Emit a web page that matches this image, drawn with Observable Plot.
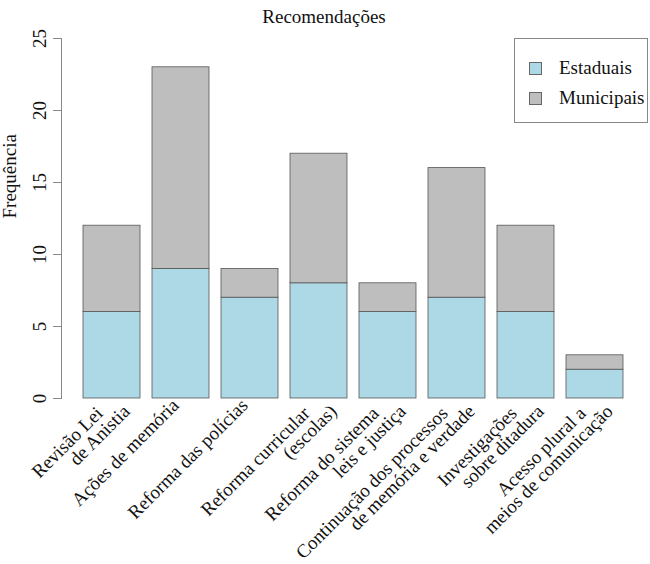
<!DOCTYPE html>
<html>
<head>
<meta charset="utf-8">
<script src="https://cdn.jsdelivr.net/npm/d3@7"></script>
<script src="https://cdn.jsdelivr.net/npm/@observablehq/plot@0.6"></script>
<style>
  body { margin: 0; background: #fff; }
  #wrap { position: relative; width: 650px; height: 564px; font-family: 'Liberation Serif', 'DejaVu Serif', serif; color: #111; }
  #wrap svg { display: block; }
  .legend { position: absolute; left: 514px; top: 38px; width: 134px; height: 85px; border: 1px solid #888; box-sizing: border-box; background: #fff; }
  .legend .item { position: absolute; left: 14px; height: 20px; display: flex; align-items: center; font-size: 19px; }
  .legend .sw { width: 13px; height: 13px; border: 1px solid #666; margin-right: 17px; box-sizing: border-box; }
</style>
</head>
<body>
<div id="wrap"></div>
<script>
const categories = [
  "Revisão Lei\nde Anistia",
  "Ações de memória",
  "Reforma das polícias",
  "Reforma curricular\n(escolas)",
  "Reforma do sistema\nleis e justiça",
  "Continuação dos processos\nde memória e verdade",
  "Investigações\nsobre ditadura",
  "Acesso plural a\nmeios de comunicação"
];
const estaduais = [6, 9, 7, 8, 6, 7, 6, 2];
const municipais = [6, 14, 2, 9, 2, 9, 6, 1];
const groups = ["Estaduais", "Municipais"];
const colors = ["#ADD8E6", "#BEBEBE"];
const yTicks = [0, 5, 10, 15, 20, 25];
const title = "Recomendações";
const yLabel = "Frequência";

const rows = categories.flatMap((c, i) => [
  {cat: c, group: groups[0], value: estaduais[i]},
  {cat: c, group: groups[1], value: municipais[i]}
]);
const labelRows = categories.map(c => ({cat: c, lines: c.split("\n")}));
const single = labelRows.filter(d => d.lines.length === 1).map(d => ({cat: d.cat, text: d.lines[0]}));
const line1 = labelRows.filter(d => d.lines.length > 1).map(d => ({cat: d.cat, text: d.lines[0]}));
const line2 = labelRows.filter(d => d.lines.length > 1).map(d => ({cat: d.cat, text: d.lines[1]}));

const fontFamily = "'Liberation Serif', 'DejaVu Serif', serif";

const chart = Plot.plot({
  width: 650,
  height: 564,
  marginLeft: 82,
  marginRight: 25,
  marginTop: 38,
  marginBottom: 166,
  style: {fontFamily, fontSize: "19px", color: "#111", background: "white"},
  x: {domain: categories, paddingInner: 0.2 / 1.2, paddingOuter: 0, axis: null},
  y: {domain: [0, 25], axis: null},
  color: {domain: groups, range: colors},
  marks: [
    Plot.barY(rows, {x: "cat", y: "value", fill: "group", order: groups, stroke: "#555", strokeWidth: 0.8}),
    Plot.frame({anchor: "left", stroke: "#888", dx: -21}),
    Plot.axisY({ticks: yTicks, label: null, tickSize: 8, dx: -21, tickRotate: -90, stroke: "#888", tickPadding: 8, fontSize: 19, fill: "#111", fontFamily}),
    Plot.text(single, {x: "cat", text: "text", frameAnchor: "bottom", rotate: -45, textAnchor: "end", dx: -1, dy: 8, fontSize: 19, fill: "#111", fontFamily}),
    Plot.text(line1, {x: "cat", text: "text", frameAnchor: "bottom", rotate: -45, textAnchor: "end", dx: -8, dy: 16, fontSize: 19, fill: "#111", fontFamily}),
    Plot.text(line2, {x: "cat", text: "text", frameAnchor: "bottom", rotate: -45, textAnchor: "end", dx: 19, dy: 14, fontSize: 19, fill: "#111", fontFamily}),
    Plot.text([yLabel], {text: d => d, frameAnchor: "left", rotate: -90, dx: -73, fontSize: 19, fill: "#111", fontFamily}),
    Plot.text([title], {text: d => d, frameAnchor: "top", dx: -30, dy: -29, fontSize: 19, fill: "#111", fontFamily})
  ]
});

const wrap = document.getElementById("wrap");
wrap.appendChild(chart);

const legend = document.createElement("div");
legend.className = "legend";
groups.forEach((g, i) => {
  const item = document.createElement("div");
  item.className = "item";
  item.style.top = (19 + i * 30) + "px";
  const sw = document.createElement("span");
  sw.className = "sw";
  sw.style.background = colors[i];
  const label = document.createElement("span");
  label.textContent = g;
  item.appendChild(sw);
  item.appendChild(label);
  legend.appendChild(item);
});
wrap.appendChild(legend);
</script>
</body>
</html>
